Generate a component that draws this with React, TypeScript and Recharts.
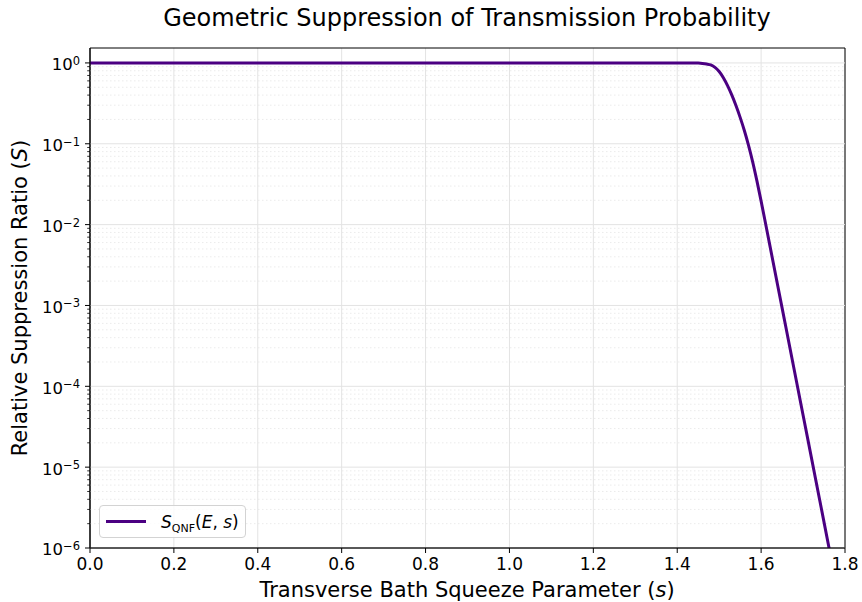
import React from "react";
import {
  LineChart,
  Line,
  XAxis,
  YAxis,
  CartesianGrid,
  ReferenceLine,
  ReferenceArea,
} from "recharts";

// squeeze parameter s and suppression ratio
const sValues = [
  0, 0.2, 0.4, 0.6, 0.8, 1.0, 1.2, 1.4, 1.44, 1.45, 1.46, 1.47, 1.48, 1.49,
  1.5, 1.51, 1.52, 1.53, 1.54, 1.55, 1.56, 1.57, 1.58, 1.59, 1.6, 1.61, 1.62,
  1.64, 1.66, 1.7, 1.74, 1.76, 1.78,
];
const ratioValues = [
  1, 1, 1, 1, 1, 1, 1, 1, 0.999, 0.995, 0.986, 0.97, 0.944, 0.882, 0.782,
  0.656, 0.524, 0.402, 0.297, 0.212, 0.146, 0.0957, 0.0593, 0.0347, 0.0195,
  0.0107, 5.82e-3, 1.72e-3, 5.07e-4, 4.42e-5, 3.85e-6, 1.13e-6, 3.35e-7,
];

const xTicks = [0, 0.2, 0.4, 0.6, 0.8, 1.0, 1.2, 1.4, 1.6, 1.8];
const yExponents = [-6, -5, -4, -3, -2, -1, 0];
const yMajor = yExponents.map((e) => Math.pow(10, e));
const yMinor: number[] = [];
yExponents.forEach((e) => {
  for (let m = 2; m <= 9; m++) {
    const v = m * Math.pow(10, e);
    if (v < 1.5) yMinor.push(v);
  }
});

const data = sValues.map((s, i) => ({ s, ratio: ratioValues[i] }));

const FONT = "DejaVu Sans, sans-serif";
const LINE_COLOR = "#4b0082";

const YTick = ({ x, y, payload }: any) => {
  const v = payload.value;
  const exp = Math.round(Math.log10(v));
  const isMajor = Math.abs(v / Math.pow(10, exp) - 1) < 1e-9;
  if (!isMajor) {
    return <line x1={x} x2={x - 2.8} y1={y} y2={y} stroke="#000" strokeWidth={0.8} />;
  }
  const sup = exp < 0 ? "\u2212" + Math.abs(exp) : String(exp);
  return (
    <g>
      <line x1={x} x2={x - 5} y1={y} y2={y} stroke="#000" strokeWidth={1} />
      <text x={x - 10} y={y + 7.4} textAnchor="end" fontSize={16.5} fill="#000" fontFamily={FONT}>
        10
        <tspan dy={-5.5} fontSize={11.5}>
          {sup}
        </tspan>
      </text>
    </g>
  );
};

export default function App() {
  return (
    <div style={{ position: "absolute", left: 0, top: 0, width: 862, height: 602, background: "#fff", fontFamily: FONT }}>
      <div
        style={{
          position: "absolute",
          top: 6,
          left: 467 - 400,
          width: 800,
          textAlign: "center",
          fontSize: 24,
          lineHeight: "24px",
          color: "#000",
          whiteSpace: "nowrap",
        }}
      >
        Geometric Suppression of Transmission Probability
      </div>
      <div
        style={{
          position: "absolute",
          top: 580,
          left: 467 - 300,
          width: 600,
          textAlign: "center",
          fontSize: 21,
          lineHeight: "21px",
          color: "#000",
          whiteSpace: "nowrap",
        }}
      >
        Transverse Bath Squeeze Parameter (<i>s</i>)
      </div>
      <div
        style={{
          position: "absolute",
          top: 298 - 11,
          left: 19.5 - 200,
          width: 400,
          textAlign: "center",
          fontSize: 21,
          color: "#000",
          transform: "rotate(-90deg)",
          lineHeight: "22px",
          whiteSpace: "nowrap",
        }}
      >
        Relative Suppression Ratio (<i>S</i>)
      </div>
      <LineChart
        width={862}
        height={602}
        data={data}
        margin={{ top: 48, right: 17, bottom: 0, left: 0 }}
      >
        <CartesianGrid horizontal={false} stroke="#e3e3e3" strokeWidth={1} />
        {yMinor.map((v) => (
          <ReferenceLine key={"m" + v} y={v} stroke="#e6e6e6" strokeDasharray="1.5 2.5" strokeWidth={0.8} />
        ))}
        {yMajor.map((v) => (
          <ReferenceLine key={"M" + v} y={v} stroke="#e3e3e3" strokeWidth={1} />
        ))}
        <XAxis
          dataKey="s"
          type="number"
          domain={[0, 1.8]}
          ticks={xTicks}
          tickFormatter={(v: number) => v.toFixed(1)}
          height={54}
          tick={{ fontSize: 17, fill: "#000", fontFamily: FONT }}
          tickSize={5}
          tickMargin={5}
          stroke="#000"
          axisLine={{ stroke: "#000", strokeWidth: 1 }}
          tickLine={{ stroke: "#000" }}
          allowDataOverflow
        />
        <YAxis
          type="number"
          scale="log"
          domain={[1e-6, 1.53]}
          ticks={[...yMajor, ...yMinor].sort((a, b) => a - b)}
          tick={<YTick />}
          tickSize={0}
          tickMargin={0}
          tickLine={false}
          width={90}
          axisLine={{ stroke: "#000", strokeWidth: 1 }}
          allowDataOverflow
          interval={0}
        />
        <ReferenceArea
          x1={0}
          x2={1.8}
          y1={1e-6}
          y2={1.53}
          fill="none"
          stroke="#000"
          strokeWidth={1}
          ifOverflow="extendDomain"
        />
        <Line
          dataKey="ratio"
          type="monotone"
          stroke={LINE_COLOR}
          strokeWidth={3}
          dot={false}
          isAnimationActive={false}
        />
      </LineChart>
      <div
        style={{
          position: "absolute",
          left: 99,
          top: 505,
          width: 147,
          height: 33,
          boxSizing: "border-box",
          border: "1px solid #d3d3d3",
          borderRadius: 4,
          background: "rgba(255,255,255,0.8)",
          display: "flex",
          alignItems: "center",
          fontSize: 17,
          color: "#000",
          whiteSpace: "nowrap",
        }}
      >
        <div style={{ width: 40, height: 3, background: LINE_COLOR, marginLeft: 6, marginRight: 15 }} />
        <span>
          <i>S</i>
          <span style={{ fontSize: 11, position: "relative", top: 4 }}>QNF</span>(<i>E</i>, <i>s</i>)
        </span>
      </div>
    </div>
  );
}
